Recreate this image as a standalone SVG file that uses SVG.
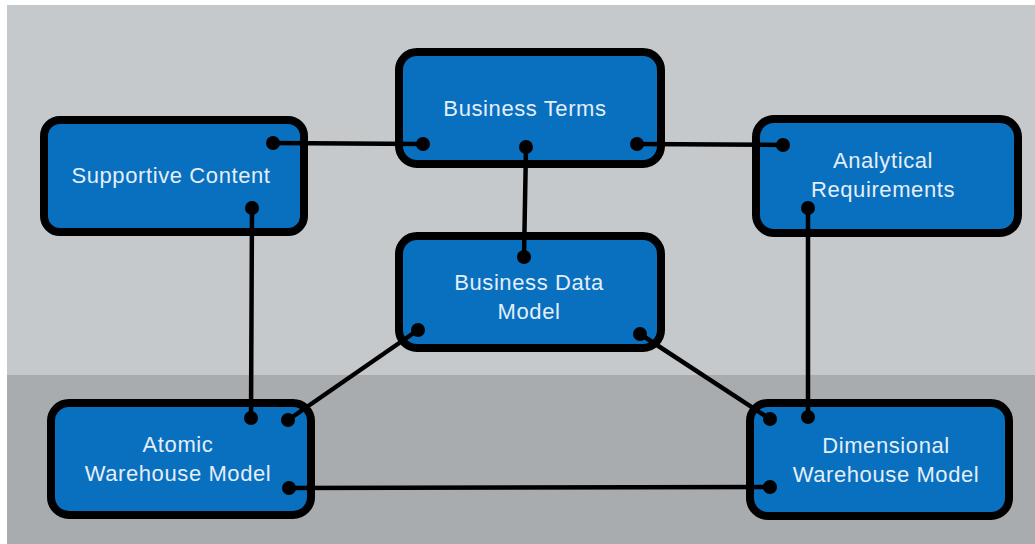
<svg xmlns="http://www.w3.org/2000/svg" width="1035" height="544" viewBox="0 0 1035 544">
  <style>
    .node rect { fill: #0870bf; stroke: #000; stroke-width: 8; }
    .node text { font-family: "Liberation Sans", Arial, sans-serif; font-size: 22px; fill: #e4eef7; text-anchor: middle; letter-spacing: 0.6px; }
    .links line { stroke: #000; stroke-width: 4.5; stroke-linecap: round; }
    .links circle { fill: #000; }
  </style>
  <defs>
    <circle id="dot" r="7"/>
  </defs>

  <!-- backdrop bands -->
  <rect x="0" y="0" width="1035" height="544" fill="#ffffff"/>
  <rect x="7" y="5" width="1028" height="370" fill="#c6c9cc"/>
  <rect x="7" y="375" width="1028" height="169" fill="#a9acaf"/>

  <g id="supportive-content" class="node">
    <rect x="44" y="120" width="260" height="112" rx="16"/>
    <text x="171" y="183">Supportive Content</text>
  </g>
  <g id="business-terms" class="node">
    <rect x="399" y="52" width="262" height="112" rx="18"/>
    <text x="525" y="116">Business Terms</text>
  </g>
  <g id="analytical-requirements" class="node">
    <rect x="756" y="119" width="262" height="114" rx="18"/>
    <text x="883" y="168">Analytical</text>
    <text x="883" y="197">Requirements</text>
  </g>
  <g id="business-data-model" class="node">
    <rect x="399" y="236" width="262" height="112" rx="18"/>
    <text x="529" y="290">Business Data</text>
    <text x="529" y="319">Model</text>
  </g>
  <g id="atomic-warehouse-model" class="node">
    <rect x="51" y="403" width="260" height="112" rx="18"/>
    <text x="178" y="452">Atomic</text>
    <text x="178" y="481">Warehouse Model</text>
  </g>
  <g id="dimensional-warehouse-model" class="node">
    <rect x="750" y="403" width="259" height="113" rx="18"/>
    <text x="886" y="453">Dimensional</text>
    <text x="886" y="482">Warehouse Model</text>
  </g>

  <g id="connectors" class="links">
    <line x1="273" y1="143" x2="423" y2="144"/>
    <line x1="637" y1="144" x2="783" y2="145"/>
    <line x1="526" y1="147" x2="524" y2="257"/>
    <line x1="252" y1="208" x2="251" y2="418"/>
    <line x1="808" y1="208" x2="808" y2="417"/>
    <line x1="418" y1="330" x2="288" y2="420"/>
    <line x1="640" y1="334" x2="770" y2="419"/>
    <line x1="289" y1="488" x2="770" y2="487"/>

    <use href="#dot" x="273" y="143"/>
    <use href="#dot" x="252" y="208"/>
    <use href="#dot" x="423" y="144"/>
    <use href="#dot" x="526" y="147"/>
    <use href="#dot" x="637" y="144"/>
    <use href="#dot" x="524" y="257"/>
    <use href="#dot" x="418" y="330"/>
    <use href="#dot" x="640" y="334"/>
    <use href="#dot" x="783" y="145"/>
    <use href="#dot" x="808" y="208"/>
    <use href="#dot" x="251" y="418"/>
    <use href="#dot" x="288" y="420"/>
    <use href="#dot" x="289" y="488"/>
    <use href="#dot" x="770" y="419"/>
    <use href="#dot" x="808" y="417"/>
    <use href="#dot" x="770" y="487"/>
  </g>
</svg>
